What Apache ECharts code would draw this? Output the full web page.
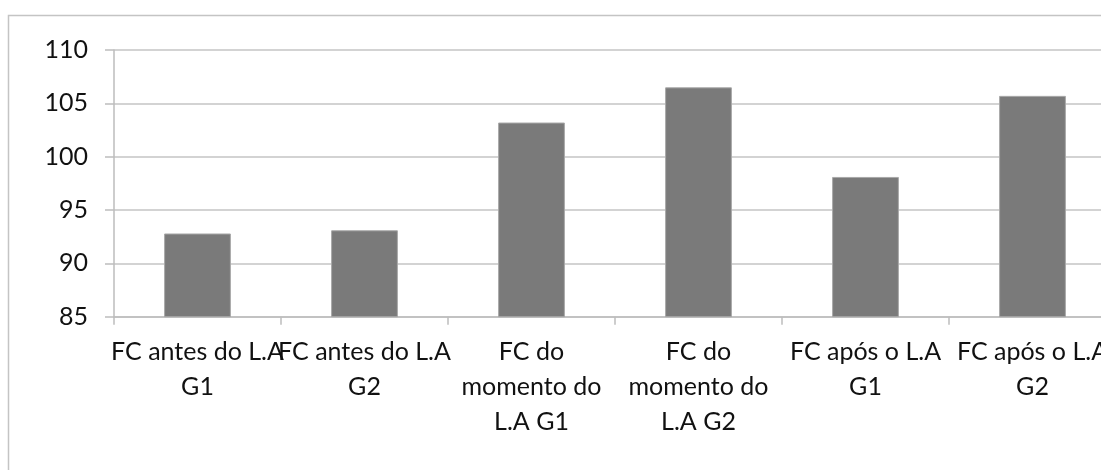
<!DOCTYPE html>
<html>
<head>
<meta charset="utf-8">
<title>FC</title>
<script src="https://cdn.jsdelivr.net/npm/echarts@6/dist/echarts.min.js"></script>
<style>
  html, body { margin: 0; padding: 0; background: #fff; overflow: hidden; }
  #chart { width: 1120px; height: 470px; }
</style>
</head>
<body>
<div id="chart"></div>
<script>
// Heart-rate (FC) categories, wrapped the way the axis shows them
const categories = [
  'FC antes do L.A\nG1',
  'FC antes do L.A\nG2',
  'FC do\nmomento do\nL.A G1',
  'FC do\nmomento do\nL.A G2',
  'FC após o L.A\nG1',
  'FC após o L.A\nG2'
];
const values = [92.8, 93.1, 103.2, 106.5, 98.1, 105.7];
const yTicks = [85, 90, 95, 100, 105, 110];

const font = 'Lato, "Open Sans", sans-serif';
const chart = echarts.init(document.getElementById('chart'), null, { renderer: 'canvas' });

chart.setOption({
  animation: false,
  backgroundColor: '#fff',
  graphic: [{
    type: 'rect',
    shape: { x: 8.5, y: 15.5, width: 1300, height: 700 },
    style: { fill: 'none', stroke: '#c4c4c4', lineWidth: 1.5 },
    z: -1
  }],
  // plot area runs past the right edge of the window, as the frame does
  grid: { left: 114, top: 50, right: 4, bottom: 153.3, containLabel: false },
  xAxis: {
    type: 'category',
    data: categories,
    boundaryGap: true,
    axisLine: { show: true, lineStyle: { color: '#bdbdbd', width: 1.5 } },
    axisTick: { show: true, alignWithLabel: false, length: 8, lineStyle: { color: '#bdbdbd', width: 1.5 } },
    axisLabel: {
      interval: 0,
      margin: 18,
      color: '#111',
      fontFamily: font,
      fontSize: 25,
      lineHeight: 35,
      align: 'center'
    },
    splitLine: { show: false }
  },
  yAxis: {
    type: 'value',
    min: yTicks[0],
    max: yTicks[yTicks.length - 1],
    interval: 5,
    axisLine: { show: true, lineStyle: { color: '#bdbdbd', width: 1.5 } },
    axisTick: { show: true, inside: false, length: 9, lineStyle: { color: '#bdbdbd', width: 1.5 } },
    axisLabel: { margin: 26, color: '#111', fontFamily: font, fontSize: 25 },
    splitLine: { show: true, lineStyle: { color: '#c4c4c4', width: 1.5 } }
  },
  series: [{
    type: 'bar',
    data: values,
    barWidth: '40%',
    itemStyle: { color: '#7a7a7a', borderColor: '#a8a8a8', borderWidth: 1 }
  }]
});
</script>
</body>
</html>
